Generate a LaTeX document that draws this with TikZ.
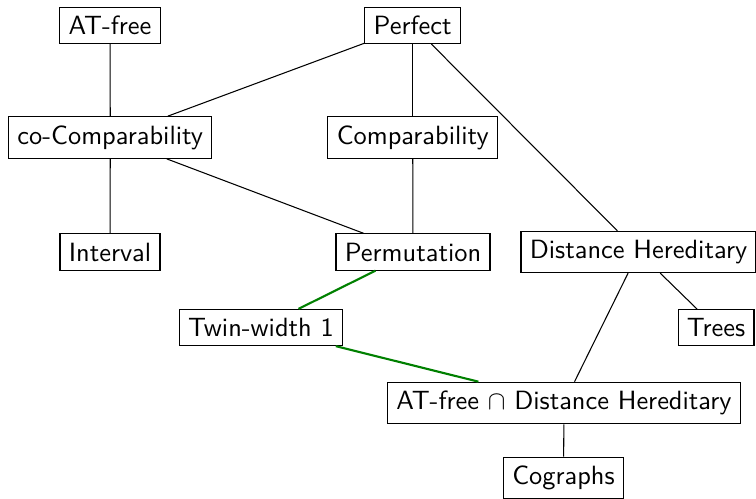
\documentclass[tikz,border=0pt]{standalone}
\begin{document}
\begin{tikzpicture}[x=0.3788pt,y=-0.3788pt,
  cls/.style={draw,font=\sffamily,fill=white},
  edge/.style={draw,line width=0.4pt},
  twedge/.style={draw,green!50!black,thick}]
\useasboundingbox (0,0) rectangle (756,498);
\node[cls] (atfree) at (110,25.3) {AT-free};
\node[cls] (perfect) at (412.7,25.3) {Perfect};
\node[cls] (cocomp) at (110.3,137.5) {co-Comparability};
\node[cls] (comp) at (412.7,137.5) {Comparability};
\node[cls] (interval) at (110,252) {Interval};
\node[cls] (perm) at (413,252) {Permutation};
\node[cls] (dh) at (638.5,252) {Distance Hereditary};
\node[cls] (tw) at (261,327.5) {Twin-width 1};
\node[cls] (trees) at (716,327.5) {Trees};
\node[cls] (atdh) at (564,403) {AT-free $\cap$ Distance Hereditary};
\node[cls] (cographs) at (563.5,478) {Cographs};
\path[edge] (atfree) -- (cocomp);
\path[edge] (perfect) -- (cocomp);
\path[edge] (perfect) -- (comp);
\path[edge] (perfect) -- (dh);
\path[edge] (cocomp) -- (interval);
\path[edge] (cocomp) -- (perm);
\path[edge] (comp) -- (perm);
\path[edge] (dh) -- (atdh);
\path[edge] (dh) -- (trees);
\path[edge] (atdh) -- (cographs);
\path[twedge] (perm) -- (tw);
\path[twedge] (tw) -- (atdh);
\end{tikzpicture}
\end{document}
